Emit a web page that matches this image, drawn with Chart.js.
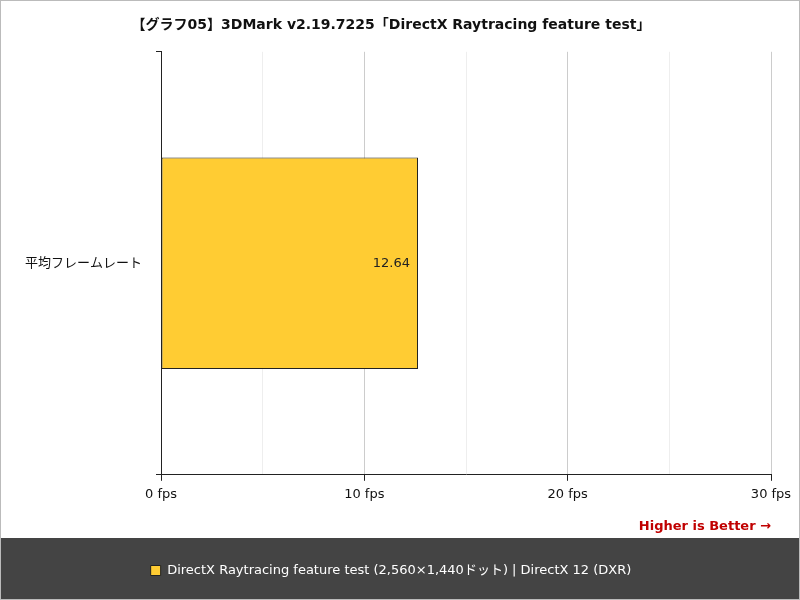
<!DOCTYPE html>
<html><head><meta charset="utf-8">
<script src="https://cdn.jsdelivr.net/npm/chart.js@4"></script>
<style>html,body{margin:0;padding:0;background:#fff}#w{width:800px;height:600px;position:relative;box-sizing:border-box;border:1px solid #bbb}</style>
</head><body><div id="w"><canvas id="c"></canvas></div>
<script>
const categories = ['平均フレームレート'];
const seriesName = 'DirectX Raytracing feature test (2,560×1,440ドット) | DirectX 12 (DXR)';
const values = [12.64];
const xTicks = [0, 10, 20, 30];
const F = '"DejaVu Sans", "Noto Sans CJK JP", sans-serif';
const band = {id:'band', beforeDraw(ch){const c=ch.ctx;c.save();c.fillStyle='#444';c.fillRect(0,537,ch.width,ch.height-537);c.restore();}};
const lbl = {id:'lbl', afterDatasetsDraw(ch){const c=ch.ctx;const m=ch.getDatasetMeta(0);c.save();c.font='13px '+F;c.fillStyle='#222';c.textAlign='right';c.textBaseline='middle';m.data.forEach((b,i)=>c.fillText(values[i].toFixed(2),b.x-8,b.y));c.restore();}};
new Chart(document.getElementById('c'),{type:'bar',
data:{labels:categories,datasets:[{label:seriesName,data:values,backgroundColor:'#ffcc33',borderColor:'#222',borderWidth:1,borderSkipped:false,barPercentage:0.5,categoryPercentage:1}]},
options:{indexAxis:'y',responsive:true,maintainAspectRatio:false,animation:false,
layout:{padding:{left:10,right:28,top:8,bottom:12}},
plugins:{title:{display:true,text:'【グラフ05】3DMark v2.19.7225「DirectX Raytracing feature test」',font:{family:F,size:14,weight:'bold'},color:'#111',padding:{top:8,bottom:18}},
legend:{position:'bottom',labels:{color:'#fff',font:{family:F,size:13},boxWidth:10,boxHeight:10,padding:14},onClick:null},tooltip:{enabled:false}},
scales:{x:{min:0,max:30,border:{color:'#222'},ticks:{stepSize:5,color:'#111',font:{family:F,size:13},padding:6,callback:v=>xTicks.includes(v)?v+' fps':''},
grid:{color:c=>c.tick&&c.tick.value%10===0?'#ccc':'#eee',tickColor:c=>c.tick&&c.tick.value%10===0?'#222':'rgba(0,0,0,0)',tickLength:6},
title:{display:true,text:'Higher is Better →',align:'end',color:'#c00000',font:{family:F,size:13,weight:'bold'},padding:{top:10,bottom:16}}},
y:{border:{color:'#222'},ticks:{color:'#111',font:{family:F,size:13},padding:14},grid:{drawOnChartArea:false,tickColor:'#222',tickLength:5}}}},
plugins:[band,lbl]});
</script></body></html>
